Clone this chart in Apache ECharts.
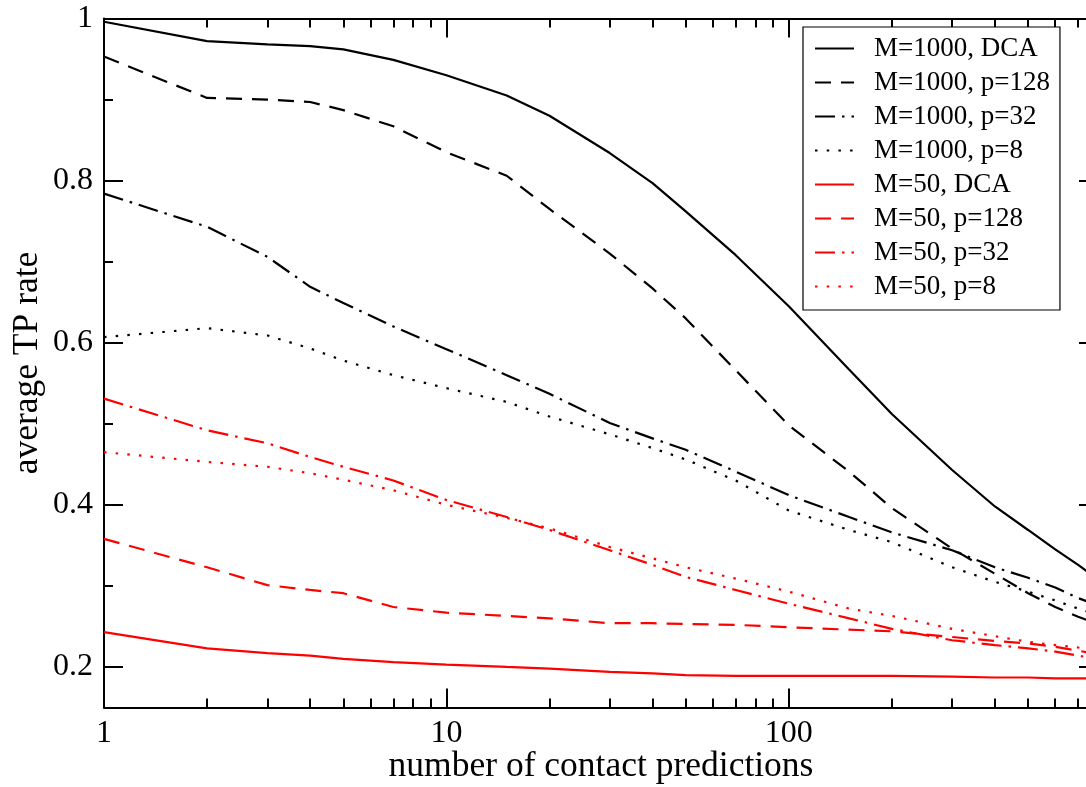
<!DOCTYPE html>
<html>
<head>
<meta charset="utf-8">
<script src="https://cdn.jsdelivr.net/npm/echarts@6/dist/echarts.min.js"></script>
<style>
  html, body { margin: 0; padding: 0; background: #ffffff; }
  #chart { width: 1086px; height: 787px; }
</style>
</head>
<body>
<div id="chart"></div>
<script>
// Number of top-ranked contact predictions considered
const predictions = [1, 2, 3, 4, 5, 7, 10, 15, 20, 30, 40, 50, 70, 100, 150, 200, 300, 400, 500, 600, 700, 800];

// Average true-positive rate per setting
const m1000Dca  = [0.996, 0.972, 0.968, 0.966, 0.962, 0.949, 0.930, 0.905, 0.880, 0.834, 0.797, 0.762, 0.708, 0.645, 0.567, 0.512, 0.443, 0.398, 0.369, 0.345, 0.326, 0.308];
const m1000P128 = [0.953, 0.902, 0.900, 0.897, 0.887, 0.867, 0.835, 0.806, 0.765, 0.710, 0.667, 0.630, 0.566, 0.498, 0.441, 0.396, 0.346, 0.315, 0.291, 0.274, 0.262, 0.253];
const m1000P32  = [0.784, 0.743, 0.706, 0.669, 0.649, 0.620, 0.592, 0.560, 0.537, 0.501, 0.482, 0.468, 0.441, 0.412, 0.385, 0.366, 0.344, 0.323, 0.310, 0.298, 0.285, 0.276];
const m1000P8   = [0.607, 0.618, 0.609, 0.593, 0.578, 0.560, 0.544, 0.527, 0.509, 0.487, 0.470, 0.456, 0.430, 0.393, 0.369, 0.354, 0.323, 0.305, 0.293, 0.282, 0.272, 0.264];
const m50Dca    = [0.243, 0.223, 0.217, 0.214, 0.210, 0.206, 0.203, 0.200, 0.198, 0.194, 0.192, 0.190, 0.189, 0.189, 0.189, 0.189, 0.188, 0.187, 0.187, 0.186, 0.186, 0.186];
const m50P128   = [0.358, 0.323, 0.301, 0.295, 0.291, 0.274, 0.267, 0.263, 0.260, 0.254, 0.254, 0.253, 0.252, 0.249, 0.246, 0.244, 0.237, 0.232, 0.229, 0.225, 0.220, 0.216];
const m50P32    = [0.531, 0.492, 0.476, 0.459, 0.447, 0.430, 0.406, 0.385, 0.369, 0.344, 0.326, 0.311, 0.295, 0.278, 0.260, 0.247, 0.233, 0.227, 0.223, 0.219, 0.214, 0.210];
const m50P8     = [0.465, 0.453, 0.447, 0.439, 0.431, 0.418, 0.400, 0.384, 0.371, 0.348, 0.334, 0.323, 0.309, 0.293, 0.272, 0.263, 0.247, 0.238, 0.231, 0.227, 0.224, 0.220];

const seriesNames = [
  'M=1000, DCA', 'M=1000, p=128', 'M=1000, p=32', 'M=1000, p=8',
  'M=50, DCA', 'M=50, p=128', 'M=50, p=32', 'M=50, p=8'
];

// Axis ranges and tick positions
const xRange = [1, 800];
const xMajorTicks = [1, 10, 100];
const xMinorTicks = [2, 3, 4, 5, 6, 7, 8, 9, 20, 30, 40, 50, 60, 70, 80, 90, 200, 300, 400, 500, 600, 700];
const yRange = [0.15, 1.0];
const yMajorTicks = [0.2, 0.4, 0.6, 0.8, 1.0];
const yMinorTicks = [0.3, 0.5, 0.7, 0.9];

const FONT = 'Liberation Serif';
const BLACK = '#000000';
const RED = '#ff0000';
const MAJOR_LEN = 19;
const MINOR_LEN = 9;

const dashStyles = {
  solid: 'solid',
  dashed: [16, 10],
  dashDot: [20, 7, 2.5, 7],
  dotted: [2.5, 9.2]
};

const seriesSpecs = [
  { values: m1000Dca,  color: BLACK, dash: dashStyles.solid },
  { values: m1000P128, color: BLACK, dash: dashStyles.dashed },
  { values: m1000P32,  color: BLACK, dash: dashStyles.dashDot },
  { values: m1000P8,   color: BLACK, dash: dashStyles.dotted },
  { values: m50Dca,    color: RED,   dash: dashStyles.solid },
  { values: m50P128,   color: RED,   dash: dashStyles.dashed },
  { values: m50P32,    color: RED,   dash: dashStyles.dashDot },
  { values: m50P8,     color: RED,   dash: dashStyles.dotted }
];

const series = seriesSpecs.map((s, i) => ({
  name: seriesNames[i],
  type: 'line',
  symbol: 'none',
  itemStyle: { color: s.color },
  lineStyle: { color: s.color, width: 2.2, type: s.dash },
  data: predictions.map((n, k) => [n, s.values[k]])
}));

const log10 = v => Math.log10(v);
const frameLine = () => ({ show: true, onZero: false, lineStyle: { color: BLACK, width: 2 } });
const noLine = () => ({ show: false, onZero: false });
const tick = (len, values) => {
  const t = { show: true, inside: true, length: len, lineStyle: { color: BLACK, width: 2 } };
  if (values) t.customValues = values;
  return t;
};

// Frame: log axis with labels at the bottom, mirrored on top, plus minor ticks
const xAxes = [
  {
    type: 'log', logBase: 10, min: xRange[0], max: xRange[1], position: 'bottom',
    name: 'number of contact predictions', nameLocation: 'middle', nameGap: 41, nameMoveOverlap: false,
    nameTextStyle: { fontFamily: FONT, fontSize: 35.5, color: BLACK },
    axisLine: frameLine(), axisTick: tick(MAJOR_LEN),
    axisLabel: { show: true, showMaxLabel: false, margin: 10, fontFamily: FONT, fontSize: 32, color: BLACK },
    splitLine: { show: false }
  },
  {
    type: 'value', min: log10(xRange[0]), max: log10(xRange[1]), position: 'bottom',
    axisLine: noLine(), axisTick: tick(MINOR_LEN, xMinorTicks.map(log10)),
    axisLabel: { show: false }, splitLine: { show: false }
  },
  {
    type: 'log', logBase: 10, min: xRange[0], max: xRange[1], position: 'top',
    axisLine: frameLine(), axisTick: tick(MAJOR_LEN),
    axisLabel: { show: false }, splitLine: { show: false }
  },
  {
    type: 'value', min: log10(xRange[0]), max: log10(xRange[1]), position: 'top',
    axisLine: noLine(), axisTick: tick(MINOR_LEN, xMinorTicks.map(log10)),
    axisLabel: { show: false }, splitLine: { show: false }
  }
];

const yAxes = [
  {
    type: 'value', min: yRange[0], max: yRange[1], position: 'left',
    name: 'average TP rate', nameLocation: 'middle', nameGap: 58, nameRotate: 90, nameMoveOverlap: false,
    nameTextStyle: { fontFamily: FONT, fontSize: 35.5, color: BLACK },
    axisLine: frameLine(), axisTick: tick(MAJOR_LEN, yMajorTicks),
    axisLabel: { show: true, customValues: yMajorTicks, margin: 11, fontFamily: FONT, fontSize: 32, color: BLACK },
    splitLine: { show: false }
  },
  {
    type: 'value', min: yRange[0], max: yRange[1], position: 'left',
    axisLine: noLine(), axisTick: tick(MINOR_LEN, yMinorTicks),
    axisLabel: { show: false }, splitLine: { show: false }
  },
  {
    type: 'value', min: yRange[0], max: yRange[1], position: 'right',
    axisLine: frameLine(), axisTick: tick(MAJOR_LEN, yMajorTicks),
    axisLabel: { show: false }, splitLine: { show: false }
  },
  {
    type: 'value', min: yRange[0], max: yRange[1], position: 'right',
    axisLine: noLine(), axisTick: tick(MINOR_LEN, yMinorTicks),
    axisLabel: { show: false }, splitLine: { show: false }
  }
];

const chart = echarts.init(document.getElementById('chart'));
chart.setOption({
  backgroundColor: '#ffffff',
  animation: false,
  grid: {
    left: 104, top: 18.5, width: 994, height: 689,
    containLabel: false, outerBoundsMode: 'none'
  },
  legend: {
    orient: 'vertical',
    left: 803, top: 27,
    padding: [8, 10, 10, 11],
    itemWidth: 39, itemHeight: 14, itemGap: 7,
    borderColor: BLACK, borderWidth: 1.2, borderRadius: 0,
    backgroundColor: '#ffffff',
    itemStyle: { opacity: 0 },
    textStyle: { fontFamily: FONT, fontSize: 27, color: BLACK, lineHeight: 27, padding: [0, 0, 0, 15] },
    data: seriesNames
  },
  xAxis: xAxes,
  yAxis: yAxes,
  series: series
});

// Make sure the tick marks along the top and bottom frame are painted; if the
// axis renderer left them out, draw them from the same log scale.
(function ensureXTicks() {
  const zr = chart.getZr();
  if (zr.refreshImmediately) zr.refreshImmediately();
  const rect = chart.getModel().getComponent('grid', 0).coordinateSystem.getRect();
  const bottom = rect.y + rect.height;
  const top = rect.y;
  const canvas = chart.getDom().querySelector('canvas');
  let painted = false;
  try {
    const ctx = canvas.getContext('2d');
    const px = Math.round(chart.convertToPixel({ xAxisIndex: 0 }, 10));
    const pixels = ctx.getImageData(px - 2, Math.round(bottom) - 15, 5, 10).data;
    for (let i = 0; i < pixels.length; i += 4) {
      if (pixels[i + 3] > 100 && pixels[i] < 120 && pixels[i + 1] < 120 && pixels[i + 2] < 120) painted = true;
    }
  } catch (e) {
    painted = false;
  }
  if (painted) return;
  const marks = [];
  const addTick = (n, len) => {
    const x = chart.convertToPixel({ xAxisIndex: 0 }, n);
    const style = { stroke: BLACK, lineWidth: 2 };
    marks.push({ type: 'line', silent: true, z: 5, shape: { x1: x, y1: bottom, x2: x, y2: bottom - len }, style: style });
    marks.push({ type: 'line', silent: true, z: 5, shape: { x1: x, y1: top, x2: x, y2: top + len }, style: style });
  };
  xMajorTicks.forEach(n => addTick(n, MAJOR_LEN));
  xMinorTicks.forEach(n => addTick(n, MINOR_LEN));
  chart.setOption({ graphic: marks });
})();
</script>
</body>
</html>
